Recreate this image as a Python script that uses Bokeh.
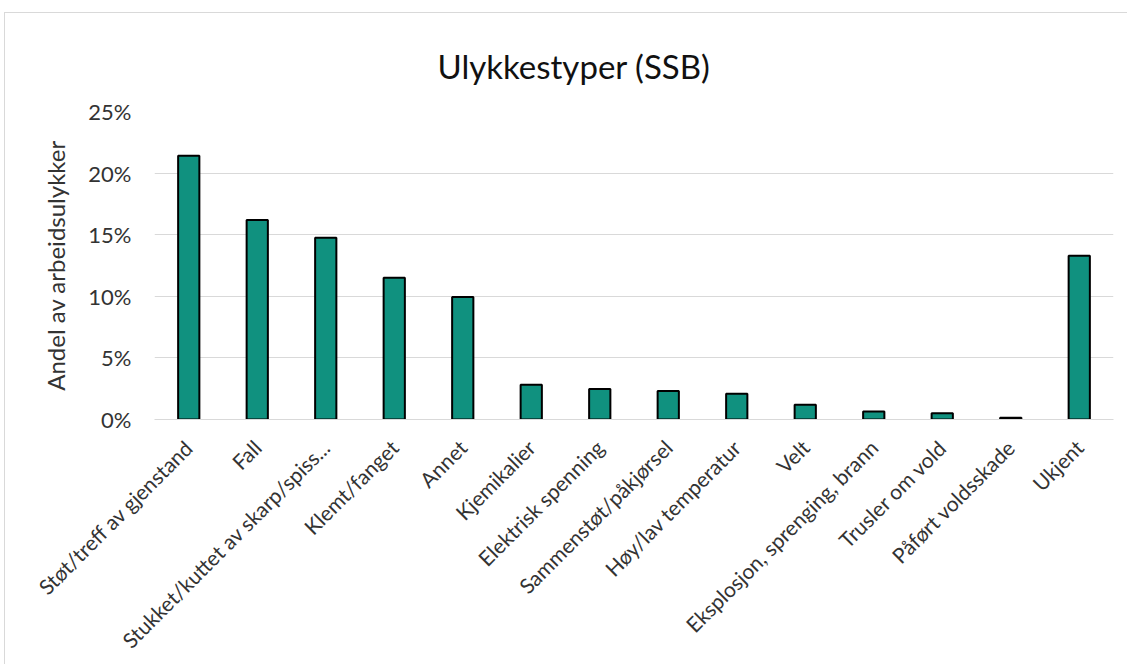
import math
from bokeh.plotting import figure
from bokeh.models import ColumnDataSource, FixedTicker, PrintfTickFormatter, Range1d
from bokeh.embed import file_html
from bokeh.resources import INLINE

categories = [
    "Støt/treff av gjenstand",
    "Fall",
    "Stukket/kuttet av skarp/spiss...",
    "Klemt/fanget",
    "Annet",
    "Kjemikalier",
    "Elektrisk spenning",
    "Sammenstøt/påkjørsel",
    "Høy/lav temperatur",
    "Velt",
    "Eksplosjon, sprenging, brann",
    "Trusler om vold",
    "Påført voldsskade",
    "Ukjent",
]
values = [21.4, 16.2, 14.75, 11.5, 9.95, 2.83, 2.48, 2.32, 2.08, 1.19, 0.65, 0.51, 0.14, 13.3]
y_ticks = [0, 5, 10, 15, 20, 25]

FONT = "Lato"
TXT = "#333333"

src = ColumnDataSource(dict(cat=categories, val=values))

p = figure(
    x_range=categories,
    y_range=Range1d(0, 25),
    frame_width=959,
    frame_height=308,
    output_backend="svg",
    toolbar_location=None,
    min_border_left=149,
    min_border_right=14,
    min_border_top=98,
    min_border_bottom=232,
    title="Ulykkestyper (SSB)",
)

p.vbar(x="cat", top="val", width=0.31, source=src,
       fill_color="#10917F", line_color="black", line_width=2)

p.title.align = "left"
p.title.vertical_align = "top"
p.title.text_font = FONT
p.title.text_font_size = "33px"
p.title.text_font_style = "normal"
p.title.text_color = "#111111"
p.title.offset = 283
p.title.standoff = 48

p.outline_line_color = None
p.xgrid.grid_line_color = None
p.ygrid.grid_line_color = "#d9d9d9"
p.ygrid.grid_line_width = 1

p.yaxis.ticker = FixedTicker(ticks=y_ticks)
p.yaxis.formatter = PrintfTickFormatter(format="%d%%")
p.yaxis.axis_line_color = None
p.yaxis.major_tick_line_color = None
p.yaxis.minor_tick_line_color = None
p.yaxis.major_label_text_font = FONT
p.yaxis.major_label_text_font_size = "22px"
p.yaxis.major_label_text_color = TXT
p.yaxis.major_label_standoff = 17
p.yaxis.axis_label = "Andel av arbeidsulykker"
p.yaxis.axis_label_text_font = FONT
p.yaxis.axis_label_text_font_size = "24px"
p.yaxis.axis_label_text_font_style = "normal"
p.yaxis.axis_label_text_color = TXT
p.yaxis.axis_label_standoff = 15

p.xaxis.axis_line_color = "#d9d9d9"
p.xaxis.major_tick_line_color = None
p.xaxis.minor_tick_line_color = None
p.xaxis.major_label_orientation = math.pi / 4
p.xaxis.major_label_text_font = FONT
p.xaxis.major_label_text_font_size = "21px"
p.xaxis.major_label_text_color = TXT
p.xaxis.major_label_standoff = 18
p.x_range.range_padding = 0

p.styles = {
    "border-top": "1px solid #d9d9d9",
    "border-left": "1px solid #d9d9d9",
    "margin-left": "4px",
    "margin-top": "12px",
}

open("out.html", "w").write(file_html(p, INLINE))
